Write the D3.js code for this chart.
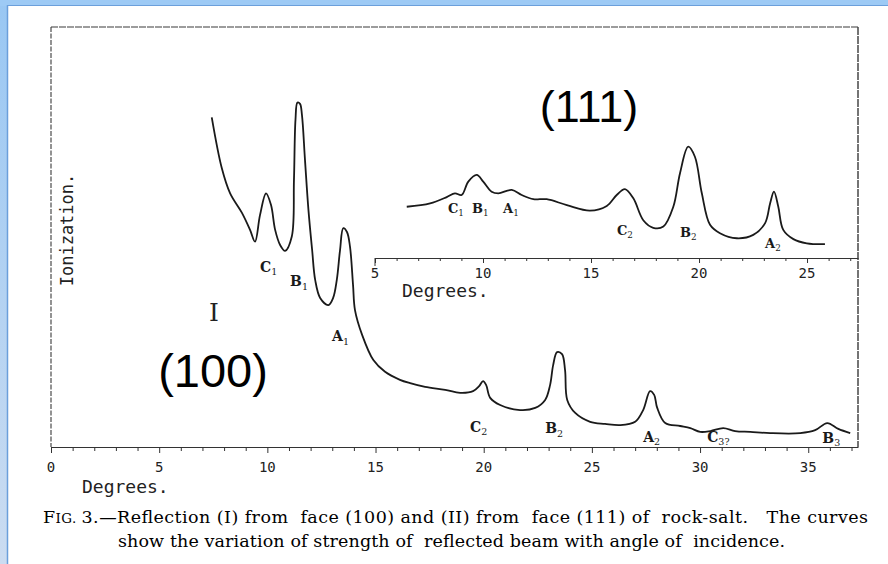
<!DOCTYPE html>
<html>
<head>
<meta charset="utf-8">
<script src="https://cdn.jsdelivr.net/npm/d3@7"></script>
<style>
  body { margin: 0; background: #fff; }
  svg { display: block; }
  text { white-space: pre; }
</style>
</head>
<body>
<svg id="fig" width="888" height="564"></svg>
<script>
// reflection from face (100) - curve I
const mainDeg = [7.43, 7.89, 8.28, 8.82, 9.20, 9.43, 9.66, 9.94, 10.17, 10.36, 10.59, 10.82, 11.13, 11.23, 11.30, 11.39, 11.51, 11.60, 11.74, 11.90, 12.07, 12.21, 12.44, 12.82, 13.04, 13.21, 13.36, 13.51, 13.68, 13.82, 13.96, 14.05, 14.38, 14.90, 15.44, 16.13, 16.60, 17.29, 18.22, 18.91, 19.51, 19.79, 19.97, 20.11, 20.30, 20.76, 21.68, 22.38, 22.84, 23.07, 23.21, 23.39, 23.62, 23.76, 23.86, 24.23, 24.92, 25.61, 26.31, 27.00, 27.37, 27.69, 27.88, 28.02, 28.39, 29.08, 29.55, 30.01, 30.48, 31.07, 31.62, 32.32, 33.24, 34.63, 35.32, 35.88, 36.39, 36.94];
const mainIon = [78.5, 66.5, 60.4, 55.8, 51.7, 48.9, 55.2, 60.4, 57.6, 51.7, 48.1, 46.7, 50.1, 63.6, 77.9, 82.0, 81.7, 79.0, 68.3, 56.4, 46.9, 39.8, 35.5, 33.8, 35.5, 39.8, 46.9, 52.1, 51.2, 47.7, 38.6, 32.6, 26.7, 20.7, 17.9, 16.0, 15.2, 14.3, 13.6, 12.9, 13.3, 14.5, 15.7, 14.8, 11.7, 10.0, 8.8, 9.3, 11.2, 14.8, 19.5, 22.6, 22.1, 18.3, 11.2, 8.1, 6.0, 5.5, 5.2, 6.0, 8.8, 13.3, 12.4, 9.3, 5.7, 5.0, 4.5, 3.6, 3.8, 4.5, 3.8, 3.6, 3.3, 3.3, 4.0, 5.7, 4.3, 3.3];

// reflection from face (111) - curve II (inset)
const insetDeg = [6.47, 7.55, 8.32, 8.70, 9.01, 9.32, 9.71, 10.01, 10.40, 10.71, 11.33, 11.79, 12.33, 12.95, 13.88, 14.95, 15.73, 16.19, 16.57, 16.96, 17.42, 17.88, 18.35, 18.81, 19.12, 19.50, 19.81, 20.13, 20.51, 20.97, 21.75, 22.51, 23.06, 23.29, 23.47, 23.67, 23.90, 24.37, 24.99, 25.83];
const insetIon = [12.2, 13.0, 14.5, 15.4, 15.0, 18.2, 19.8, 18.2, 15.8, 15.4, 16.2, 15.0, 14.0, 14.0, 12.6, 11.3, 12.4, 15.0, 16.4, 14.2, 9.0, 7.2, 7.5, 12.2, 20.2, 26.5, 24.1, 15.4, 7.9, 5.9, 4.7, 5.5, 8.3, 13.0, 15.8, 12.2, 6.7, 4.5, 3.5, 3.3];

// peak labels: letter, subscript, degree, ionization (where the label sits)
const mainLabelTxt = ["C", "B", "A", "C", "B", "A", "C", "B"];
const mainLabelSub = ["1", "1", "1", "2", "2", "2", "3?", "3"];
const mainLabelDeg = [9.66, 11.05, 12.99, 19.37, 22.84, 27.37, 30.33, 35.65];
const mainLabelIon = [41.7, 38.3, 25.2, 3.6, 3.3, 1.2, 1.2, 1.0];

const insetLabelTxt = ["C", "B", "A", "C", "B", "A"];
const insetLabelSub = ["1", "1", "1", "2", "2", "2"];
const insetLabelDeg = [8.38, 9.49, 10.93, 16.20, 19.12, 23.06];
const insetLabelIon = [10.7, 10.7, 10.7, 5.5, 5.0, 2.4];

const mainTickLabels = [0, 5, 10, 15, 20, 25, 30, 35];
const insetTickLabels = [5, 10, 15, 20, 25];

const captionLine1 = "3.\u2014Reflection (I) from  face (100) and (II) from  face (111) of  rock-salt.   The curves";
const captionLine2 = "show the variation of strength of  reflected beam with angle of  incidence.";

const svg = d3.select("#fig");

// window frame
const defs = svg.append("defs");
const grad = defs.append("linearGradient").attr("id", "side").attr("x1", 0).attr("y1", 0).attr("x2", 0).attr("y2", 1);
grad.append("stop").attr("offset", "0%").attr("stop-color", "#99c7f3");
grad.append("stop").attr("offset", "100%").attr("stop-color", "#cbdcf1");
svg.append("rect").attr("x", 0).attr("y", 0).attr("width", 888).attr("height", 564).attr("fill", "url(#side)");
svg.append("rect").attr("x", 0).attr("y", 0).attr("width", 888).attr("height", 6).attr("fill", "#9dcaf5");
svg.append("rect").attr("x", 8).attr("y", 6).attr("width", 880).attr("height", 558).attr("fill", "#fff");
svg.append("line").attr("x1", 7.5).attr("x2", 7.5).attr("y1", 5).attr("y2", 564).attr("stroke", "#6b9fdb").attr("stroke-width", 1.5);
svg.append("line").attr("x1", 7).attr("x2", 888).attr("y1", 5.5).attr("y2", 5.5).attr("stroke", "#6b9fdb").attr("stroke-width", 1.2);

// scales
const x = d3.scaleLinear().domain([0, 37.3]).range([51, 858]);
const y = d3.scaleLinear().domain([0, 100]).range([447, 27]);
const xi = d3.scaleLinear().domain([5, 27.36]).range([375, 858]);
const yi = d3.scaleLinear().domain([0, 30]).range([258, 132]);

const ink = "#1a1a1a";
const penFont = "'DejaVu Sans Mono', monospace";

// plot border (drawn, slightly broken like the print)
const border = svg.append("g").attr("stroke", "#3a3a3a").attr("stroke-width", 1.1).attr("fill", "none");
border.append("line").attr("x1", x(0)).attr("x2", x(0)).attr("y1", y(100)).attr("y2", y(0)).attr("stroke-dasharray", "5,1.5");
border.append("line").attr("x1", x(0)).attr("x2", x(37.3)).attr("y1", y(100)).attr("y2", y(100)).attr("stroke-dasharray", "7,1");
border.append("line").attr("x1", x(37.3)).attr("x2", x(37.3)).attr("y1", y(100)).attr("y2", y(0)).attr("stroke-dasharray", "8,1").attr("stroke-width", 1.4);

// main axis
const xAxis = d3.axisBottom(x)
  .tickValues(d3.range(0, 38))
  .tickSize(4)
  .tickSizeOuter(0)
  .tickFormat(() => "");
const gx = svg.append("g").attr("transform", `translate(0,${y(0)})`).call(xAxis);
gx.select(".domain").attr("stroke", "#333").attr("stroke-width", 1.2);
gx.selectAll(".tick line").attr("stroke", "#333").attr("y2", d => d % 5 === 0 ? 6 : 4);

svg.append("g").selectAll("text").data(mainTickLabels).enter().append("text")
  .attr("x", d => x(d))
  .attr("y", 472)
  .attr("text-anchor", "middle")
  .style("font-family", penFont)
  .style("font-size", "14px")
  .attr("fill", "#222")
  .text(d => d);

svg.append("text")
  .attr("x", 82).attr("y", 493)
  .style("font-family", penFont).style("font-size", "18px").attr("fill", "#222")
  .text("Degrees.");

svg.append("text")
  .attr("transform", "translate(73,230) rotate(-90)")
  .attr("text-anchor", "middle")
  .style("font-family", penFont).style("font-size", "17px").attr("fill", "#222")
  .text("Ionization.");

// inset axis
const xiAxis = d3.axisBottom(xi)
  .tickValues(d3.range(5, 28))
  .tickSize(3)
  .tickSizeOuter(0)
  .tickFormat(() => "");
const gxi = svg.append("g").attr("transform", `translate(0,${yi(0)})`).call(xiAxis);
gxi.select(".domain").attr("stroke", "#333").attr("stroke-width", 1.2);
gxi.selectAll(".tick line").attr("stroke", "#333").attr("y2", d => d % 5 === 0 ? 5 : 3);
gxi.append("line").attr("x1", xi(5)).attr("x2", xi(5)).attr("y1", 0).attr("y2", 8).attr("stroke", "#333");

svg.append("g").selectAll("text").data(insetTickLabels).enter().append("text")
  .attr("x", d => xi(d))
  .attr("y", 278)
  .attr("text-anchor", "middle")
  .style("font-family", penFont)
  .style("font-size", "14px")
  .attr("fill", "#222")
  .text(d => d);

svg.append("text")
  .attr("x", 402).attr("y", 297)
  .style("font-family", penFont).style("font-size", "18px").attr("fill", "#222")
  .text("Degrees.");

// curves
const mainLine = d3.line()
  .x(d => x(d[0]))
  .y(d => y(d[1]))
  .curve(d3.curveCatmullRom.alpha(0.5));
const insetLine = d3.line()
  .x(d => xi(d[0]))
  .y(d => yi(d[1]))
  .curve(d3.curveCatmullRom.alpha(0.5));

svg.append("path")
  .datum(d3.zip(mainDeg, mainIon))
  .attr("d", mainLine)
  .attr("fill", "none")
  .attr("stroke", ink)
  .attr("stroke-width", 1.8)
  .attr("stroke-linejoin", "round");

svg.append("path")
  .datum(d3.zip(insetDeg, insetIon))
  .attr("d", insetLine)
  .attr("fill", "none")
  .attr("stroke", ink)
  .attr("stroke-width", 1.8)
  .attr("stroke-linejoin", "round");

// peak labels
function peakLabels(txt, sub, deg, ion, sx, sy, size) {
  const t = svg.append("g").selectAll("text").data(d3.range(txt.length)).enter().append("text")
    .attr("x", i => sx(deg[i]))
    .attr("y", i => sy(ion[i]))
    .style("font-family", "'DejaVu Serif', serif")
    .style("font-size", size + "px")
    .style("font-weight", "bold")
    .attr("fill", ink);
  t.append("tspan").text(i => txt[i]);
  t.append("tspan")
    .attr("dy", size * 0.25)
    .style("font-size", (size * 0.68) + "px")
    .style("font-weight", "normal")
    .text(i => sub[i]);
}
peakLabels(mainLabelTxt, mainLabelSub, mainLabelDeg, mainLabelIon, x, y, 14);
peakLabels(insetLabelTxt, insetLabelSub, insetLabelDeg, insetLabelIon, xi, yi, 13);

// panel marks
svg.append("text")
  .attr("x", 214).attr("y", 321)
  .attr("text-anchor", "middle")
  .style("font-family", "'DejaVu Serif', serif").style("font-size", "25px").attr("fill", "#222")
  .text("I");

svg.append("text")
  .attr("x", 213).attr("y", 387)
  .attr("text-anchor", "middle")
  .style("font-family", "'Liberation Sans', Arial, sans-serif").style("font-size", "47px").attr("fill", "#000")
  .text("(100)");

svg.append("text")
  .attr("x", 589).attr("y", 122)
  .attr("text-anchor", "middle")
  .style("font-family", "'Liberation Sans', Arial, sans-serif").style("font-size", "45px").attr("fill", "#000")
  .text("(111)");

// caption
const cap1 = svg.append("text")
  .attr("x", 43).attr("y", 523)
  .attr("textLength", 825).attr("lengthAdjust", "spacing")
  .style("font-family", "'DejaVu Serif', serif").style("font-size", "17.5px").attr("fill", "#000");
cap1.append("tspan").text("F");
cap1.append("tspan").style("font-size", "13.5px").text("IG. ");
cap1.append("tspan").text(captionLine1);

svg.append("text")
  .attr("x", 118).attr("y", 547)
  .attr("textLength", 667).attr("lengthAdjust", "spacing")
  .style("font-family", "'DejaVu Serif', serif").style("font-size", "17.5px").attr("fill", "#000")
  .text(captionLine2);
</script>
</body>
</html>
